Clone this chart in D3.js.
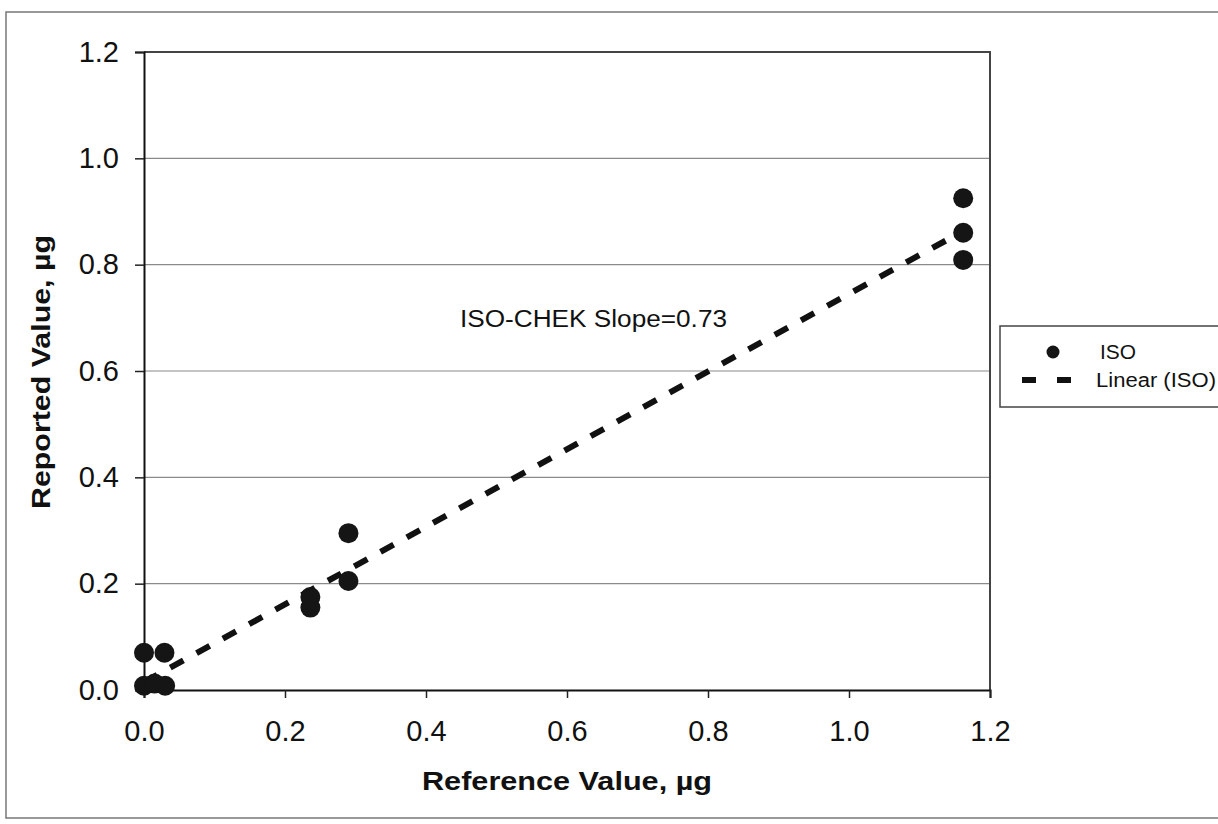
<!DOCTYPE html>
<html>
<head>
<meta charset="utf-8">
<script src="https://cdn.jsdelivr.net/npm/d3@7"></script>
<style>
  html, body { margin: 0; padding: 0; background: #fff; }
  svg { display: block; font-family: "Liberation Sans", Arial, sans-serif; }
</style>
</head>
<body>
<svg id="chart" width="1218" height="824"></svg>
<script>
// Reference vs reported mass, ISO method
const refValues      = [0.000, 0.029, 0.000, 0.015, 0.030, 0.236, 0.236, 0.290, 0.290, 1.162, 1.162, 1.162];
const reportedValues = [0.070, 0.070, 0.008, 0.012, 0.008, 0.175, 0.155, 0.295, 0.205, 0.925, 0.860, 0.809];

// Linear trend (ISO)
const trendSlope = 0.73;
const trendIntercept = 0.015;
const trendRange = [0, 1.162];

const xTicks = [0, 0.2, 0.4, 0.6, 0.8, 1.0, 1.2];
const yTicks = [0, 0.2, 0.4, 0.6, 0.8, 1.0, 1.2];

const seriesName = "ISO";
const trendName = "Linear (ISO)";
const annotation = "ISO-CHEK Slope=0.73";
const xTitle = "Reference Value, \u00b5g";
const yTitle = "Reported Value, \u00b5g";

const svg = d3.select("#chart");
const plot = { left: 144, right: 990, top: 52, bottom: 690 };

const x = d3.scaleLinear().domain([0, 1.2]).range([plot.left, plot.right]);
const y = d3.scaleLinear().domain([0, 1.2]).range([plot.bottom, plot.top]);

// chart area frame
svg.append("rect")
  .attr("x", 6).attr("y", 12).attr("width", 1240).attr("height", 806)
  .attr("fill", "none").attr("stroke", "#777").attr("stroke-width", 1.5);

// horizontal gridlines
svg.append("g")
  .selectAll("line")
  .data(yTicks.filter(d => d > 0 && d < 1.2))
  .join("line")
  .attr("x1", plot.left).attr("x2", plot.right)
  .attr("y1", d => y(d)).attr("y2", d => y(d))
  .attr("stroke", "#8a8a8a").attr("stroke-width", 1.2);

// plot area border (top, right)
svg.append("path")
  .attr("d", `M${plot.left},${plot.top}H${plot.right}V${plot.bottom}`)
  .attr("fill", "none").attr("stroke", "#444").attr("stroke-width", 2);

// axes
const xAxis = d3.axisBottom(x).tickValues(xTicks).tickFormat(d3.format(".1f")).tickSize(8).tickPadding(22);
const yAxis = d3.axisLeft(y).tickValues(yTicks).tickFormat(d3.format(".1f")).tickSize(9).tickPadding(16);

const gx = svg.append("g").attr("transform", `translate(0,${plot.bottom})`).call(xAxis);
const gy = svg.append("g").attr("transform", `translate(${plot.left},0)`).call(yAxis);

[gx, gy].forEach(g => {
  g.select(".domain").attr("stroke", "#111").attr("stroke-width", 2);
  g.selectAll(".tick line").attr("stroke", "#222").attr("stroke-width", 1.5);
  g.selectAll(".tick text")
    .attr("fill", "#111")
    .style("font-family", "'Liberation Sans', Arial, sans-serif")
    .style("font-size", "29px");
});

// axis titles
svg.append("text")
  .attr("x", 567).attr("y", 790)
  .attr("text-anchor", "middle")
  .attr("textLength", 290).attr("lengthAdjust", "spacingAndGlyphs")
  .style("font-size", "26px").style("font-weight", "bold").attr("fill", "#111")
  .text(xTitle);

svg.append("text")
  .attr("transform", "translate(50,372) rotate(-90)")
  .attr("text-anchor", "middle")
  .attr("textLength", 274).attr("lengthAdjust", "spacingAndGlyphs")
  .style("font-size", "26px").style("font-weight", "bold").attr("fill", "#111")
  .text(yTitle);

// trend line
svg.append("line")
  .attr("x1", x(trendRange[0])).attr("y1", y(trendSlope * trendRange[0] + trendIntercept))
  .attr("x2", x(trendRange[1])).attr("y2", y(trendSlope * trendRange[1] + trendIntercept))
  .attr("stroke", "#111").attr("stroke-width", 6)
  .attr("stroke-dasharray", "15,15");

// data points
const points = refValues.map((v, i) => ({ x: v, y: reportedValues[i] }));
svg.append("g")
  .selectAll("circle")
  .data(points)
  .join("circle")
  .attr("cx", d => x(d.x)).attr("cy", d => y(d.y))
  .attr("r", 10)
  .attr("fill", "#151515");

// annotation
svg.append("text")
  .attr("x", 460).attr("y", 327)
  .attr("textLength", 267).attr("lengthAdjust", "spacingAndGlyphs")
  .style("font-size", "23px").attr("fill", "#111")
  .text(annotation);

// legend
const legend = svg.append("g");
legend.append("rect")
  .attr("x", 1000).attr("y", 326).attr("width", 240).attr("height", 81)
  .attr("fill", "#fff").attr("stroke", "#444").attr("stroke-width", 1.5);
legend.append("circle")
  .attr("cx", 1053).attr("cy", 352).attr("r", 6.5).attr("fill", "#151515");
legend.append("text")
  .attr("x", 1100).attr("y", 352).attr("dy", "0.35em")
  .style("font-size", "20px").attr("fill", "#111")
  .attr("textLength", 36).attr("lengthAdjust", "spacingAndGlyphs")
  .text(seriesName);
legend.append("line")
  .attr("x1", 1022).attr("x2", 1092).attr("y1", 380).attr("y2", 380)
  .attr("stroke", "#111").attr("stroke-width", 6).attr("stroke-dasharray", "14,21");
legend.append("text")
  .attr("x", 1096).attr("y", 380).attr("dy", "0.35em")
  .style("font-size", "20px").attr("fill", "#111")
  .attr("textLength", 120).attr("lengthAdjust", "spacingAndGlyphs")
  .text(trendName);
</script>
</body>
</html>
